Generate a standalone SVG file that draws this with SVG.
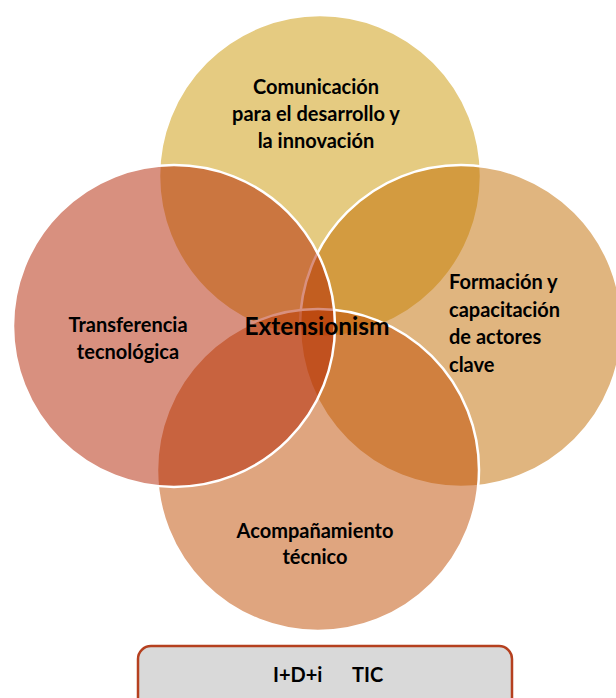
<svg xmlns="http://www.w3.org/2000/svg" width="616" height="698" viewBox="0 0 616 698">
  <style>
    .c { stroke: #ffffff; stroke-width: 2.5; fill-opacity: 0.5; }
    .t { font-family: Lato, "Open Sans", sans-serif; font-weight: 700; font-size: 20px; fill: #000000; }
    .m { text-anchor: middle; }
  </style>
  <rect width="616" height="698" fill="#ffffff"/>
  <g id="node-comunicacion">
    <circle class="c" cx="320" cy="176" r="161" fill="#CB9703"/>
    <text class="t m" x="316" y="94">Comunicación</text>
    <text class="t m" x="316" y="121">para el desarrollo y</text>
    <text class="t m" x="316" y="148">la innovación</text>
  </g>
  <g id="node-formacion">
    <circle class="c" cx="461" cy="326" r="161" fill="#C16B00"/>
    <text class="t" x="449" y="289">Formación y</text>
    <text class="t" x="449" y="317">capacitación</text>
    <text class="t" x="449" y="344">de actores</text>
    <text class="t" x="449" y="372">clave</text>
  </g>
  <g id="node-acompanamiento">
    <circle class="c" cx="318" cy="470" r="161" fill="#BF4B00"/>
    <text class="t m" x="315" y="538">Acompañamiento</text>
    <text class="t m" x="315" y="564">técnico</text>
  </g>
  <g id="node-transferencia">
    <circle class="c" cx="174" cy="326" r="161" fill="#B12100"/>
    <text class="t m" x="128" y="332">Transferencia</text>
    <text class="t m" x="128" y="359">tecnológica</text>
  </g>
  <g id="node-extensionism">
    <text class="t m" x="317" y="335" style="font-size:24.5px">Extensionism</text>
  </g>
  <g id="node-box">
    <rect x="138" y="646" width="374" height="70" rx="13" ry="13" fill="#D9D9D9" stroke="#B5401F" stroke-width="2.5"/>
    <text class="t" x="273" y="682">I+D+i</text>
    <text class="t" x="352" y="682">TIC</text>
  </g>
  <g id="connectors"/>
</svg>
